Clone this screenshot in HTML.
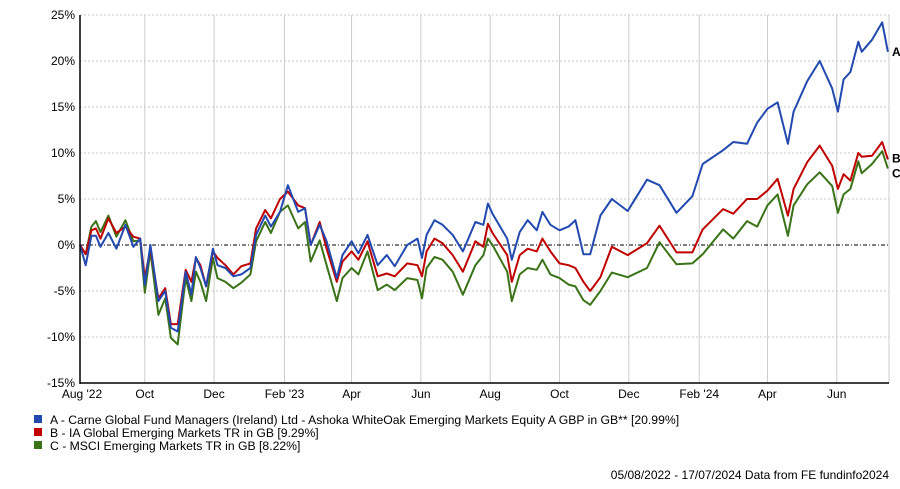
<!DOCTYPE html>
<html><head><meta charset="utf-8"><style>
body{margin:0;background:#fff;width:900px;height:484px;overflow:hidden;font-family:"Liberation Sans",Arial,sans-serif}
svg text{font-family:"Liberation Sans",Arial,sans-serif}
</style></head><body>
<svg id="chart" width="900" height="484" xmlns="http://www.w3.org/2000/svg"></svg>
<script>
const days=[0,5,10,14,18,25,32,40,47,53,57,62,69,75,80,86,93,98,102,106,111,117,121,128,135,142,150,155,163,168,176,183,192,198,203,211,217,226,231,239,245,253,262,270,277,288,297,301,305,312,319,328,337,348,355,359,363,376,380,387,394,402,407,414,422,430,436,443,449,458,468,482,499,510,525,539,548,566,575,587,596,605,614,623,628,640,651,662,667,672,678,685,688,697,706,711];
const seriesA=[0,-2.2,1.0,1.0,-0.2,1.3,-0.4,2.2,-0.2,0.7,-4.3,0,-6.1,-5.0,-9.0,-9.4,-2.9,-5.4,-1.3,-2.5,-4.5,-0.4,-2.2,-2.5,-3.4,-3.2,-2.5,1.1,3.2,2.0,3.6,6.5,3.6,4.0,0,2.2,0.4,-3.6,-1.1,0.4,-0.9,1.1,-2.2,-1.1,-2.3,0,0.7,-1.4,1.1,2.7,2.2,1.1,-0.7,2.5,2.2,4.5,3.4,0.7,-1.6,1.4,2.7,1.6,3.6,2.2,1.6,2.0,2.7,-1.0,-1.0,3.2,5.0,3.7,7.1,6.5,3.5,5.3,8.8,10.3,11.2,11.0,13.3,14.8,15.5,11.0,14.5,17.8,20.0,17.0,14.5,18.0,18.8,22.1,21.0,22.3,24.2,21.0];
const seriesB=[0,-1.0,1.6,1.8,0.7,2.9,1.3,2.0,0.9,0.7,-3.6,-0.4,-5.8,-4.7,-8.6,-8.6,-2.7,-4.0,-1.4,-2.2,-4.5,-0.7,-1.4,-2.2,-3.2,-2.3,-2.0,1.8,3.8,2.9,5.0,5.8,4.3,4.0,0,2.5,-0.4,-4.0,-1.8,-0.7,-1.6,0.4,-3.4,-3.1,-3.4,-2.0,-2.2,-3.4,-0.7,0.7,0.2,-1.1,-2.9,0.4,-0.2,2.3,1.3,-1.1,-4.0,-1.1,-0.4,-0.7,0.7,-0.7,-2.0,-2.2,-2.5,-4.0,-5.0,-3.5,-0.2,-1.1,0.2,2.1,-0.8,-0.8,1.7,3.9,3.4,5.0,5.0,5.9,7.2,3.2,6.1,9.0,10.8,8.6,6.1,7.7,7.0,10.0,9.6,9.7,11.2,9.3];
const seriesC=[0,-1.0,2.0,2.6,1.4,3.2,0.9,2.7,0.4,0.5,-5.2,-0.7,-7.6,-5.8,-10.1,-10.8,-3.6,-6.1,-2.9,-4.0,-6.1,-1.4,-3.6,-4.0,-4.7,-4.1,-3.2,0.4,2.5,1.3,3.6,4.3,1.8,2.5,-1.8,0.5,-2.2,-6.1,-3.6,-2.5,-3.2,-0.7,-4.9,-4.3,-4.9,-3.6,-3.8,-5.8,-2.5,-1.3,-1.6,-2.9,-5.4,-2.2,-1.1,0.7,0,-2.9,-6.1,-3.2,-2.5,-2.7,-1.6,-3.2,-3.6,-4.3,-4.5,-6.0,-6.5,-5.0,-3.0,-3.5,-2.5,0.3,-2.1,-2.0,-1.0,1.7,0.7,2.6,2.0,4.3,5.5,1.0,4.3,6.6,7.9,6.4,3.5,5.5,6.1,9.1,7.8,8.8,10.2,8.3];
const yTicks=[25,20,15,10,5,0,-5,-10,-15];
const monthLabels=["Aug '22","Oct","Dec","Feb '23","Apr","Jun","Aug","Oct","Dec","Feb '24","Apr","Jun"];
const monthDays=[0,57,118,180,239,300,361,422,483,545,605,666];

const X0=80,X1=889,Y0=15,Y1=383,DMAX=712,VMAX=25,VMIN=-15;
const xs=d=>X0+d/DMAX*(X1-X0);
const ys=v=>Y0+(VMAX-v)/(VMAX-VMIN)*(Y1-Y0);
const svg=document.getElementById('chart');
const NS='http://www.w3.org/2000/svg';
function mk(tag,attrs,parent){const e=document.createElementNS(NS,tag);for(const k in attrs)e.setAttribute(k,attrs[k]);(parent||svg).appendChild(e);return e;}

yTicks.forEach(t=>{
  const y=ys(t);
  if(t!==0&&t!==VMIN){const g=mk('line',{x1:X0,x2:X1,y1:y,y2:y,stroke:'#c8c8c8','stroke-dasharray':'2,2'});
  
  }
  const l=mk('text',{x:75,y:y+4,'text-anchor':'end','font-size':12,fill:'#000'});
  l.textContent=t+'%';
  
  
});
monthDays.forEach((d,i)=>{
  const x=xs(d);
  if(i>0){const g=mk('line',{x1:x,x2:x,y1:Y0,y2:Y1,stroke:'#cccccc'});
  
  }
  const l=mk('text',{x:i===0?x+2:x,y:Y1+15,'text-anchor':'middle','font-size':12,fill:'#000'});
  l.textContent=monthLabels[i];
  
  
});
const rb=mk('line',{x1:X1,x2:X1,y1:Y0,y2:Y1,stroke:'#cccccc'});


const tb=mk('line',{x1:X0,x2:X1,y1:Y0,y2:Y0,stroke:'#c8c8c8','stroke-dasharray':'2,2'});


const zl=mk('line',{x1:X0,x2:X1,y1:ys(0),y2:ys(0),stroke:'#000','stroke-dasharray':'4,2,1,2'});



function series(vals,color,name){
  const p=mk('polyline',{points:vals.map((v,i)=>xs(days[i]).toFixed(1)+','+ys(v).toFixed(1)).join(' '),fill:'none',stroke:color,'stroke-width':2,'stroke-linejoin':'round'});
  
  
}
series(seriesC,'#3a7317','series-c-line');
series(seriesB,'#c00000','series-b-line');
series(seriesA,'#2249b0','series-a-line');

const ya=mk('line',{x1:X0,x2:X0,y1:Y0,y2:Y1+1,stroke:'#000','stroke-width':1.5});


const xa=mk('line',{x1:X0,x2:X1,y1:Y1,y2:Y1,stroke:'#000','stroke-width':1.5});



[['A',seriesA],['B',seriesB],['C',seriesC]].forEach(([lab,vals],i)=>{
  let y=ys(vals[vals.length-1])+4;
  if(lab==='C')y+=5;
  if(lab==='B')y-=1;
  const t=mk('text',{x:892,y:y,'font-size':12,'font-weight':'bold',fill:'#000'});
  t.textContent=lab;
  
  
});

const legend=[['#2249b0','A - Carne Global Fund Managers (Ireland) Ltd - Ashoka WhiteOak Emerging Markets Equity A GBP in GB** [20.99%]'],['#c00000','B - IA Global Emerging Markets TR in GB [9.29%]'],['#3a7317','C - MSCI Emerging Markets TR in GB [8.22%]']];
legend.forEach(([c,txt],i)=>{
  const y=420+i*13;
  const s=mk('rect',{x:34,y:y-5,width:8,height:8,fill:c});
  
  
  const t=mk('text',{x:50,y:y+4,'font-size':12.2,fill:'#000'});
  t.textContent=txt;
  
  
});
const f=mk('text',{x:889,y:479,'text-anchor':'end','font-size':12,fill:'#000'});
f.textContent='05/08/2022 - 17/07/2024 Data from FE fundinfo2024';


</script>
</body></html>
